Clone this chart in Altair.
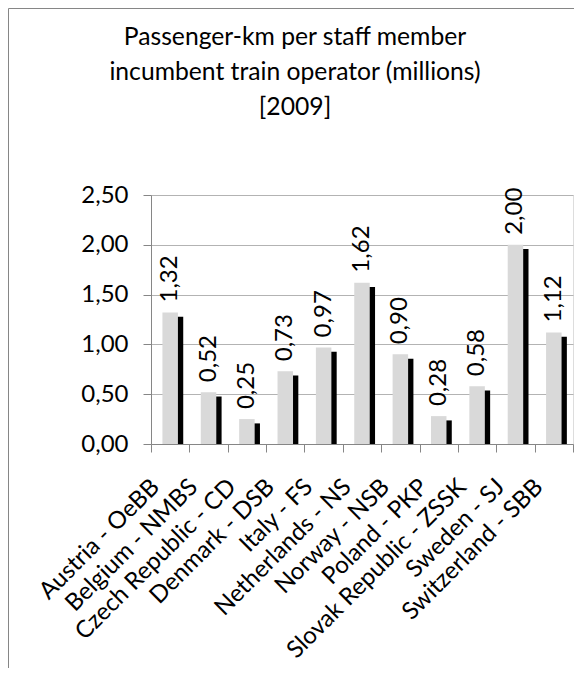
import altair as alt
import pandas as pd

operators = ["Austria - OeBB", "Belgium - NMBS", "Czech Republic - CD", "Denmark - DSB",
             "Italy - FS", "Netherlands - NS", "Norway - NSB", "Poland - PKP",
             "Slovak Republic - ZSSK", "Sweden - SJ", "Switzerland - SBB"]
values = [1.32, 0.52, 0.25, 0.73, 0.97, 1.62, 0.90, 0.28, 0.58, 2.00, 1.12]
y_ticks = [0, 0.5, 1.0, 1.5, 2.0, 2.5]
title_lines = ["Passenger-km per staff member",
               "incumbent train operator (millions)",
               "[2009]"]

df = pd.DataFrame({"operator": operators, "value": values})

FONT = "Lato"
FS = 24
PLOT_W, PLOT_H = 422, 249
PAD_L, PAD_T = 143, 187
SVG_W, SVG_H = 566, 660
GRAY_AX = "#868686"
SHADOW_DROP = 4.3 * 2.5 / PLOT_H  # shadow drop expressed in data units

x_enc = alt.X("operator:N", sort=operators, title=None,
              scale=alt.Scale(type="band", paddingInner=0, paddingOuter=0),
              axis=alt.Axis(labelAngle=-45, labelAlign="right", labelBaseline="middle",
                            labelFontSize=FS, labelFont=FONT, labelColor="black",
                            labelPadding=31, labelOffset=-15, labelLimit=400,
                            tickSize=8, tickBand="extent",
                            tickColor=GRAY_AX, domainColor=GRAY_AX, grid=False,
                            labelOverlap=False))
y_axis = alt.Axis(values=y_ticks,
                  labelExpr="replace(format(datum.value, '.2f'), '.', ',')",
                  labelFontSize=FS, labelFont=FONT, labelColor="black",
                  labelPadding=15, tickSize=8, tickColor=GRAY_AX,
                  domainColor=GRAY_AX, gridColor="#b3b3b3")
y_scale = alt.Scale(domain=[0, 2.5], nice=False)
y_enc = alt.Y("value:Q", title=None, scale=y_scale, axis=y_axis)

base = alt.Chart(df)

shadow = base.transform_calculate(
    shadow_top=f"max(0, datum.value - {SHADOW_DROP})"
).mark_bar(color="black", width=15.5, xOffset=5.3).encode(
    x=x_enc, y=alt.Y("shadow_top:Q", title=None, scale=y_scale, axis=y_axis))
bars = base.mark_bar(color="#d9d9d9", width=15.5).encode(x=x_enc, y=y_enc)
labels = base.transform_calculate(
    label="replace(format(datum.value, '.2f'), '.', ',')"
).mark_text(angle=270, align="left", baseline="middle", dx=10,
            fontSize=FS, font=FONT, color="black").encode(
    x=x_enc, y=y_enc, text="label:N")

edge = alt.Chart(pd.DataFrame({"e": [0]}))
left_border = edge.mark_rule(color=GRAY_AX, strokeWidth=1).encode(
    x=alt.value(-PAD_L + 0.5), y=alt.value(-PAD_T + 0.5), y2=alt.value(SVG_H - PAD_T))
top_border = edge.mark_rule(color=GRAY_AX, strokeWidth=1).encode(
    y=alt.value(-PAD_T + 0.5), x=alt.value(-PAD_L + 0.5), x2=alt.value(SVG_W - PAD_L))

chart = alt.layer(left_border, top_border, shadow, bars, labels).properties(
    width=PLOT_W, height=PLOT_H,
    padding={"left": PAD_L, "top": PAD_T,
             "right": SVG_W - PAD_L - PLOT_W, "bottom": SVG_H - PAD_T - PLOT_H},
    autosize=alt.AutoSizeParams(type="none"),
    title=alt.TitleParams(text=title_lines, fontSize=24.7, font=FONT, fontWeight="normal",
                          color="black", anchor="middle", frame="group",
                          baseline="bottom", lineHeight=35, offset=-137, dx=-67),
).configure_view(strokeWidth=0).configure(background="white")

chart.save("out.html", embed_options={"renderer": "svg", "actions": False})
